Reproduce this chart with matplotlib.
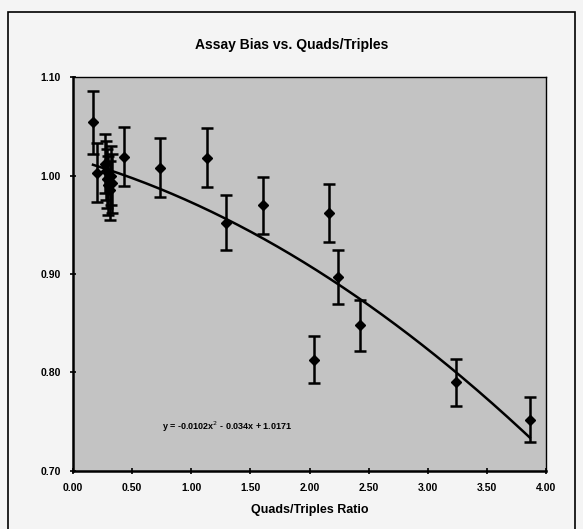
import matplotlib.pyplot as plt
import matplotlib.patches as patches
import numpy as np

plt.rcParams['font.family'] = ['Liberation Sans', 'DejaVu Sans']

# data
ratio = [0.17, 0.20, 0.27, 0.28, 0.29, 0.30, 0.31, 0.32, 0.33,
         0.43, 0.74, 1.13, 1.29, 1.61, 2.04, 2.16, 2.24, 2.43, 3.24, 3.86]
bias = [1.054, 1.003, 1.012, 1.005, 0.997, 0.990, 0.985, 1.000, 0.992,
        1.019, 1.008, 1.018, 0.952, 0.970, 0.813, 0.962, 0.897, 0.848, 0.790, 0.752]
err = [0.032, 0.030, 0.030, 0.030, 0.030, 0.030, 0.030, 0.030, 0.030,
       0.030, 0.030, 0.030, 0.028, 0.029, 0.024, 0.029, 0.027, 0.026, 0.024, 0.023]

# trendline coefficients shown on the chart
coef = [-0.0102, -0.034, 1.0171]

fig = plt.figure(figsize=(5.83, 5.29), dpi=100, facecolor='#f4f4f4')
fig.patches.append(patches.Rectangle((0.013, -0.01), 0.974, 0.988, transform=fig.transFigure,
                                     fill=False, edgecolor='black', linewidth=1.2))

ax = fig.add_axes([0.125, 0.110, 0.812, 0.744])
ax.set_facecolor('#c3c3c3')

ax.errorbar(ratio, bias, yerr=err, fmt='D', color='black', markersize=5.5,
            ecolor='black', elinewidth=1.8, capsize=4.5, capthick=1.8, zorder=3)

xs = np.linspace(min(ratio), max(ratio), 200)
ax.plot(xs, np.polyval(coef, xs), color='black', linewidth=1.8, zorder=2)

ax.text(0.75, 0.745, 'y = -0.0102x$^2$ - 0.034x + 1.0171', fontsize=6.5,
        fontweight='bold', va='center')

ax.set_xlim(0, 4)
ax.set_ylim(0.70, 1.10)
ax.set_xticks(np.arange(0, 4.01, 0.5))
ax.set_yticks([0.70, 0.80, 0.90, 1.00, 1.10])
ax.xaxis.set_major_formatter(plt.FormatStrFormatter('%.2f'))
ax.yaxis.set_major_formatter(plt.FormatStrFormatter('%.2f'))
ax.tick_params(direction='inout', length=5, width=1.2, labelsize=7.5, pad=6)
for lbl in ax.get_xticklabels() + ax.get_yticklabels():
    lbl.set_fontweight('bold')

for side in ['left', 'bottom']:
    ax.spines[side].set_linewidth(1.8)
for side in ['top', 'right']:
    ax.spines[side].set_linewidth(1.0)

ax.set_xlabel('Quads/Triples Ratio', fontsize=9, fontweight='bold', labelpad=8)
fig.text(0.5, 0.915, 'Assay Bias vs. Quads/Triples', ha='center', va='center',
         fontsize=10, fontweight='bold')

fig.savefig('out.png', dpi=100, facecolor=fig.get_facecolor())
